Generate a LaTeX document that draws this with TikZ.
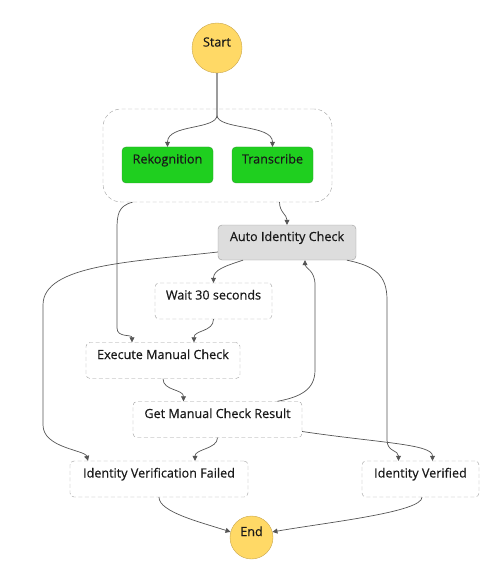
\documentclass[tikz,border=0pt]{standalone}
\usepackage{fontspec}
\setmainfont{Open Sans}
\newfontfamily\labelfont[FakeBold=0.35]{Open Sans}
\usetikzlibrary{arrows.meta,shapes}

\definecolor{linegray}{HTML}{555555}
\definecolor{dashgray}{HTML}{9C9C9C}
\definecolor{taskgreen}{HTML}{1FCF1F}
\definecolor{taskborder}{HTML}{2E9E2E}
\definecolor{choicegray}{HTML}{DDDDDD}
\definecolor{endyellow}{HTML}{FFD966}
\definecolor{endborder}{HTML}{C9A64E}

\begin{document}
\begin{tikzpicture}[x=1pt,y=-1pt,
    every node/.style={font=\labelfont\fontsize{12.6}{14}\selectfont, text=black!90,
        text height=8pt, text depth=11pt},
    terminal/.style={circle, draw=endborder, fill=endyellow, inner sep=0pt},
    parallel/.style={draw=dashgray, dash pattern=on 4pt off 2.5pt, rounded corners=18pt},
    task/.style={draw=taskborder, fill=taskgreen, rounded corners=4pt, minimum height=36pt},
    choice/.style={draw=dashgray, fill=choicegray, rounded corners=4pt, minimum height=35pt},
    pass/.style={draw=dashgray, dash pattern=on 4pt off 2.5pt, rounded corners=4pt, minimum height=36pt},
    flow/.style={draw=linegray, line width=0.7pt, -{Triangle[width=5pt,length=5pt]}}
]
    \useasboundingbox (0,0) rectangle (500,577);

    % start and the parallel branch
    \node[terminal, minimum size=50pt] (start) at (217,48) {Start};
    \node[parallel, minimum width=229pt, minimum height=93pt] (par) at (217.5,155.5) {};
    \node[task, minimum width=91pt] (rek) at (167.5,165) {Rekognition};
    \node[task, minimum width=81pt] (trans) at (272.5,165) {Transcribe};
    \coordinate (fork) at (217,115);

    % ----------

    \node[choice, minimum width=138pt] (auto) at (287,242.5) {Auto Identity Check};
    \node[pass, minimum width=117pt] (wait) at (213.5,301) {Wait 30 seconds};
    \node[pass, minimum width=154pt] (exec) at (163,360.5) {Execute Manual Check};
    \node[pass, minimum width=169pt] (getres) at (217.5,419.5) {Get Manual Check Result};

    % ----------

    \node[pass, minimum width=178pt] (failed) at (159,479) {Identity Verification Failed};
    \node[pass, minimum width=117pt] (verified) at (420.5,479) {Identity Verified};
    \node[terminal, minimum size=43pt] (end) at (251.5,537.5) {End};

    % connectors
    \draw[flow] (start.south) -- (fork) .. controls (217,130) and (167.5,124) .. (rek.north);
    \draw[flow] (start.south) -- (fork) .. controls (217,130) and (272.5,124) .. (trans.north);
    \draw[flow] ([xshift=62pt]par.south) .. controls +(0,10) and +(0,-10) .. (auto.north);
    \draw[flow] ([xshift=-85pt]par.south) .. controls (118,206) and (117,215) .. (117,230)
        -- (117,328) .. controls (117,338) and (132,334) .. ([xshift=-31pt]exec.north);
    \draw[flow] ([xshift=-44pt]auto.south) .. controls (225,266) and (213.5,270) .. (wait.north);
    \draw[flow] (wait.south) .. controls (213.5,332) and (194,330) .. ([xshift=31pt]exec.north);
    \draw[flow] (exec.south) .. controls (163,391) and (183.5,389) .. ([xshift=-34pt]getres.north);
    \draw[flow] ([xshift=60pt]getres.north) .. controls (300,397) and (315,390) .. (315,370)
        -- (315,285) .. controls (315,270) and (305,268) .. ([xshift=18pt]auto.south);
    \draw[flow] ([yshift=-9.5pt]auto.west) .. controls (130,262) and (43,265) .. (43,305)
        -- (43,425) .. controls (43,448) and (85,450) .. ([xshift=-71pt]failed.north);
    \draw[flow] ([xshift=60pt]auto.south) .. controls (375,266) and (387,275) .. (387,300)
        -- (387,440) .. controls (387,452) and (398.5,450) .. ([xshift=-22pt]verified.north);
    \draw[flow] (getres.south) .. controls (217.5,449) and (195,449) .. ([xshift=36pt]failed.north);
    \draw[flow] ([yshift=-12pt]getres.east) .. controls (380,443) and (432.5,444) .. ([xshift=12pt]verified.north);
    \draw[flow] (failed.south) .. controls (159,512) and (200,522) .. (end.165);
    \draw[flow] ([xshift=1.5pt]verified.south) .. controls (422,512) and (330,522) .. (end.15);

\end{tikzpicture}
\end{document}
